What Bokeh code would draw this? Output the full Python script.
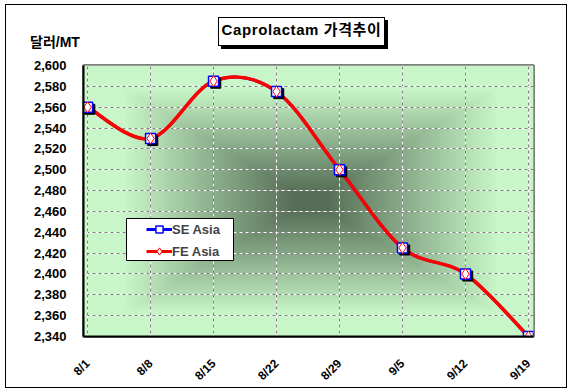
import numpy as np
from bokeh.plotting import figure
from bokeh.models import (ColumnDataSource, FixedTicker, NumeralTickFormatter, Range1d,
                          Legend, LegendItem, BoxAnnotation, Grid, Div)
from bokeh.transform import dodge
from bokeh.embed import file_html
from bokeh.resources import INLINE

# ---------------- data ----------------
dates = ["8/1", "8/8", "8/15", "8/22", "8/29", "9/5", "9/12", "9/19"]
se_asia = [2560, 2530, 2585, 2575, 2500, 2425, 2400, 2340]
fe_asia = [2560, 2530, 2585, 2575, 2500, 2425, 2400, 2340]
y_ticks = [2340, 2360, 2380, 2400, 2420, 2440, 2460, 2480, 2500, 2520, 2540, 2560, 2580, 2600]
title_text = "Caprolactam 가격추이"
y_label = "달러/MT"

FONT = "Liberation Sans, Noto Sans CJK KR"

xs = list(range(len(dates)))
x0, x1 = -0.065, len(dates) - 1 + 0.08
y0, y1 = y_ticks[0], y_ticks[-1]
NAN = float("nan")


def bezier_source(x, y):
    # Excel-like smoothed line: Catmull-Rom converted to cubic Bezier segments
    n = len(x)
    P = list(zip(x, y))
    d = dict(x0=[], y0=[], x1=[], y1=[], cx0=[], cy0=[], cx1=[], cy1=[])
    for i in range(n - 1):
        pm = P[max(i - 1, 0)]
        p0 = P[i]
        p1 = P[i + 1]
        p2 = P[min(i + 2, n - 1)]
        d["x0"].append(p0[0]); d["y0"].append(p0[1])
        d["x1"].append(p1[0]); d["y1"].append(p1[1])
        d["cx0"].append(p0[0] + (p1[0] - pm[0]) / 6.0)
        d["cy0"].append(p0[1] + (p1[1] - pm[1]) / 6.0)
        d["cx1"].append(p1[0] - (p2[0] - p0[0]) / 6.0)
        d["cy1"].append(p1[1] - (p2[1] - p0[1]) / 6.0)
    return ColumnDataSource(d)


p = figure(width=572, height=392, output_backend="svg", toolbar_location=None,
           x_range=Range1d(x0, x1), y_range=Range1d(y0, y1),
           min_border_left=83, min_border_right=39, min_border_top=65, min_border_bottom=56)
p.background_fill_color = "#c8f5c8"
p.border_fill_color = "white"
p.outline_line_color = "#808080"
p.outline_line_width = 3

# ------------- background gradient (rectangular "from center") -------------
H, W = 136, 226
uu, vv = np.meshgrid(np.linspace(0, 1, W), np.linspace(0, 1, H))
t = np.maximum(np.abs(uu - 0.505) / 0.5, np.abs(vv - 0.5) / 0.5)
s = np.clip((t - 0.07) / 0.76, 0, 1)
dark = np.array([86, 110, 86])
light = np.array([200, 246, 200])
rgb = dark[None, None, :] + (light - dark)[None, None, :] * s[:, :, None]
img = np.empty((H, W), dtype=np.uint32)
view = img.view(dtype=np.uint8).reshape((H, W, 4))
view[:, :, 0] = rgb[:, :, 0].astype(np.uint8)
view[:, :, 1] = rgb[:, :, 1].astype(np.uint8)
view[:, :, 2] = rgb[:, :, 2].astype(np.uint8)
view[:, :, 3] = 255
p.image_rgba(image=[img], x=x0, y=y0, dw=x1 - x0, dh=y1 - y0, level="image")

# ------------- axes -------------
p.xaxis.ticker = FixedTicker(ticks=xs)
p.xaxis.major_label_overrides = {i: d for i, d in enumerate(dates)}
p.yaxis.ticker = FixedTicker(ticks=y_ticks)
p.yaxis.formatter = NumeralTickFormatter(format="0,0")
for ax in (p.xaxis[0], p.yaxis[0]):
    ax.axis_line_color = "black"
    ax.axis_line_width = 2
    ax.major_tick_line_color = None
    ax.minor_tick_line_color = None
    ax.major_label_text_font = FONT
    ax.major_label_text_font_style = "bold"
    ax.major_label_text_color = "black"
p.yaxis.major_label_text_font_size = "13px"
p.yaxis.major_label_standoff = 11
p.xaxis.major_label_text_font_size = "12px"
p.xaxis.major_label_orientation = np.pi / 4
p.xaxis.major_label_standoff = 19

# ------------- grids: solid gray + white dashes -------------
p.xgrid.grid_line_color = "#808080"
p.ygrid.grid_line_color = "#808080"
p.add_layout(Grid(dimension=0, ticker=p.xaxis[0].ticker, grid_line_color="white",
                  grid_line_dash="3 3", grid_line_width=1))
p.add_layout(Grid(dimension=1, ticker=p.yaxis[0].ticker, grid_line_color="white",
                  grid_line_dash="3 3", grid_line_width=1))

# ------------- series -------------
src_se = ColumnDataSource(dict(x=xs, y=se_asia))
src_fe = ColumnDataSource(dict(x=xs, y=fe_asia))
p.bezier(source=bezier_source(xs, se_asia), x0="x0", y0="y0", x1="x1", y1="y1",
         cx0="cx0", cy0="cy0", cx1="cx1", cy1="cy1", line_color="blue", line_width=3)
p.bezier(source=bezier_source(xs, fe_asia), x0="x0", y0="y0", x1="x1", y1="y1",
         cx0="cx0", cy0="cy0", cx1="cx1", cy1="cy1", line_color="red", line_width=3.5)
p.scatter(x=dodge("x", 0.035), y=dodge("y", -2.0), source=src_se, marker="square",
          size=10, fill_color="black", line_color="black")
p.scatter(x="x", y="y", source=src_se, marker="square", size=10,
          fill_color="white", line_color="blue", line_width=1.5)
p.scatter(x="x", y="y", source=src_fe, marker="diamond", size=11,
          fill_color="white", line_color="red", line_width=1)

# ------------- legend -------------
lg_se_line = p.line(x=[NAN], y=[NAN], line_color="blue", line_width=3)
lg_se_mk = p.scatter(x=[NAN], y=[NAN], marker="square", size=8, fill_color="white",
                     line_color="blue", line_width=1.5)
lg_fe_line = p.line(x=[NAN], y=[NAN], line_color="red", line_width=3)
lg_fe_mk = p.scatter(x=[NAN], y=[NAN], marker="diamond", size=10, fill_color="white",
                     line_color="red", line_width=1)
p.add_layout(BoxAnnotation(left=43, right=150, bottom=76, top=118,
                           left_units="screen", right_units="screen",
                           bottom_units="screen", top_units="screen",
                           fill_color="white", fill_alpha=1.0,
                           line_color="black", line_width=1, line_alpha=1.0))
legend = Legend(items=[LegendItem(label="SE Asia", renderers=[lg_se_line, lg_se_mk]),
                       LegendItem(label="FE Asia", renderers=[lg_fe_line, lg_fe_mk])],
                location=(63, 76), padding=1, spacing=4, glyph_width=26, glyph_height=18,
                label_height=18, label_standoff=0, label_width=60,
                label_text_font=FONT, label_text_font_style="bold",
                label_text_font_size="13px", background_fill_alpha=0,
                border_line_color=None, margin=0)
p.add_layout(legend, "center")

# ------------- title, y label and outer border (DOM overlays) -------------
title_div = Div(text=title_text, styles={
    "position": "absolute", "left": "218px", "top": "17px", "width": "167px",
    "height": "29px", "box-sizing": "border-box", "border": "1px solid black",
    "background": "white", "box-shadow": "3px 3px 0 black", "text-align": "center",
    "line-height": "27px", "font": f"bold 15px {FONT}", "color": "black",
    "letter-spacing": "0.6px", "white-space": "nowrap", "z-index": "10"})
ylab_div = Div(text=y_label, styles={
    "position": "absolute", "left": "30px", "top": "31px", "line-height": "18px",
    "font": f"bold 14px {FONT}", "color": "black", "white-space": "nowrap",
    "z-index": "10"})
border_div = Div(text="", styles={
    "position": "absolute", "left": "5px", "top": "4px", "width": "562px",
    "height": "384px", "box-sizing": "border-box", "border": "1px solid black",
    "pointer-events": "none", "z-index": "9"})
p.elements = [border_div, title_div, ylab_div]

open("out.html", "w").write(file_html(p, INLINE))
